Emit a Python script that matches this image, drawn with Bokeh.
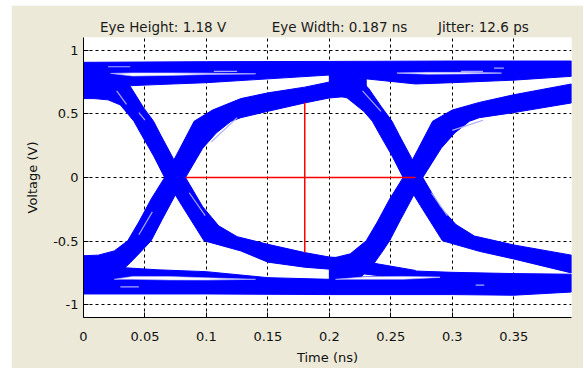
from bokeh.plotting import figure
from bokeh.models import Range1d, FixedTicker, LinearAxis
from bokeh.embed import file_html
from bokeh.resources import INLINE

# ---------------- texts / ticks ----------------
header_texts = ["Eye Height: 1.18 V", "Eye Width: 0.187 ns", "Jitter: 12.6 ps"]
header_t = [0.0648, 0.2083, 0.3253]

x_ticks = [0, 0.05, 0.1, 0.15, 0.2, 0.25, 0.3, 0.35]
x_tick_labels = ["0", "0.05", "0.1", "0.15", "0.2", "0.25", "0.3", "0.35"]
y_ticks = [-1, -0.5, 0, 0.5, 1]
y_tick_labels = ["-1", "-0.5", "0", "0.5", "1"]

# ---------------- eye measurement markers ----------------
eye_width_t = [0.083, 0.270]
eye_width_v = [0.0, 0.0]
eye_height_t = [0.18, 0.18]
eye_height_v = [-0.59, 0.59]

# ---------------- trace bands (two edges each) ----------------
top_a_t = [0, 0.1, 0.2, 0.3, 0.397]
top_a_v = [0.905, 0.91, 0.912, 0.915, 0.915]
top_b_t = [0, 0.02, 0.035, 0.06, 0.1, 0.15, 0.2, 0.245, 0.27, 0.3, 0.35, 0.397]
top_b_v = [0.62, 0.67, 0.72, 0.73, 0.745, 0.775, 0.805, 0.76, 0.735, 0.745, 0.765, 0.795]

bot_a_t = [0, 0.02, 0.035, 0.06, 0.1, 0.15, 0.2, 0.245, 0.27, 0.3, 0.35, 0.397]
bot_a_v = [-0.615, -0.66, -0.71, -0.725, -0.74, -0.787, -0.80, -0.77, -0.735, -0.745, -0.755, -0.76]
bot_b_t = [0, 0.1, 0.2, 0.3, 0.35, 0.397]
bot_b_v = [-0.915, -0.915, -0.92, -0.92, -0.925, -0.90]

fall_l_a_t = [0, 0.025, 0.038, 0.049, 0.057, 0.063, 0.073, 0.083, 0.097, 0.11, 0.125, 0.15, 0.18, 0.2, 0.217, 0.24, 0.27]
fall_l_a_v = [0.70, 0.80, 0.717, 0.547, 0.442, 0.33, 0.15, 0.0, -0.23, -0.38, -0.465, -0.525, -0.59, -0.625, -0.635, -0.68, -0.73]
fall_l_b_t = [0, 0.0085, 0.02, 0.03, 0.041, 0.0475, 0.057, 0.066, 0.08, 0.098, 0.128, 0.15, 0.18, 0.2, 0.23, 0.27]
fall_l_b_v = [0.62, 0.62, 0.61, 0.57, 0.442, 0.33, 0.17, 0.0, -0.22, -0.497, -0.577, -0.665, -0.705, -0.72, -0.76, -0.80]

rise_l_a_t = [0, 0.028, 0.038, 0.047, 0.055, 0.064, 0.074, 0.083, 0.097, 0.108, 0.12, 0.128, 0.15, 0.18, 0.2, 0.23]
rise_l_a_v = [-0.70, -0.76, -0.67, -0.58, -0.497, -0.33, -0.15, 0.0, 0.23, 0.35, 0.442, 0.47, 0.52, 0.586, 0.625, 0.65]
rise_l_b_t = [0, 0.012, 0.025, 0.036, 0.045, 0.055, 0.066, 0.078, 0.09, 0.105, 0.128, 0.15, 0.18, 0.2, 0.23]
rise_l_b_v = [-0.615, -0.61, -0.577, -0.497, -0.35, -0.17, 0.0, 0.22, 0.442, 0.53, 0.62, 0.665, 0.71, 0.75, 0.78]

desc_r_a_t = [0.2, 0.222, 0.232, 0.242, 0.251, 0.257, 0.267, 0.276, 0.29, 0.303, 0.318, 0.35, 0.397]
desc_r_a_v = [0.86, 0.80, 0.70, 0.56, 0.442, 0.33, 0.15, 0.0, -0.23, -0.37, -0.46, -0.53, -0.61]
desc_r_b_t = [0.2, 0.2145, 0.228, 0.235, 0.2415, 0.251, 0.26, 0.274, 0.292, 0.322, 0.35, 0.397]
desc_r_b_v = [0.66, 0.625, 0.52, 0.442, 0.33, 0.17, 0.0, -0.22, -0.497, -0.58, -0.64, -0.75]

rise_r_a_t = [0.2, 0.215, 0.226, 0.236, 0.244, 0.249, 0.258, 0.268, 0.276, 0.291, 0.302, 0.314, 0.322, 0.35, 0.397]
rise_r_a_v = [-0.80, -0.80, -0.78, -0.68, -0.57, -0.497, -0.33, -0.15, 0.0, 0.23, 0.35, 0.442, 0.47, 0.51, 0.586]
rise_r_b_t = [0.2, 0.217, 0.23, 0.239, 0.249, 0.26, 0.272, 0.284, 0.30, 0.322, 0.35, 0.397]
rise_r_b_v = [-0.64, -0.60, -0.497, -0.35, -0.17, 0.0, 0.22, 0.442, 0.53, 0.59, 0.65, 0.735]

# white gaps between overlapping trace families
gap_top_l_t = [0.022, 0.04, 0.07, 0.1, 0.14]
gap_top_l_hi = [0.818, 0.822, 0.822, 0.82, 0.815]
gap_top_l_lo = [0.818, 0.797, 0.802, 0.809, 0.814]
gap_top_r_t = [0.255, 0.28, 0.31, 0.34]
gap_top_r_hi = [0.822, 0.826, 0.826, 0.822]
gap_top_r_lo = [0.82, 0.812, 0.814, 0.82]
gap_bot_l_t = [0.025, 0.04, 0.07, 0.1, 0.14]
gap_bot_l_hi = [-0.80, -0.777, -0.778, -0.788, -0.80]
gap_bot_l_lo = [-0.80, -0.80, -0.805, -0.806, -0.80]
gap_bot_r_t = [0.205, 0.23, 0.26, 0.29]
gap_bot_r_hi = [-0.80, -0.78, -0.777, -0.782]
gap_bot_r_lo = [-0.80, -0.80, -0.80, -0.785]

# light streaks where single traces separate inside the bands
streak_t = [[0.02, 0.038], [0.106, 0.125], [0.307, 0.325], [0.334, 0.342],
            [0.027, 0.035], [0.045, 0.05], [0.104, 0.125], [0.086, 0.099],
            [0.227, 0.242], [0.300, 0.325], [0.319, 0.326], [0.03, 0.045],
            [0.283, 0.296], [0.045, 0.056]]
streak_v = [[0.87, 0.87], [0.834, 0.834], [0.834, 0.834], [0.86, 0.86],
            [0.68, 0.575], [0.51, 0.45], [0.28, 0.47], [-0.12, -0.30],
            [0.68, 0.52], [0.37, 0.45], [-0.845, -0.845], [-0.86, -0.86],
            [-0.12, -0.30], [-0.45, -0.27]]

BLUE = "#0000ff"
PAGE = "#ece9d8"
FONT = "DejaVu Sans"

p = figure(width=572, height=363, output_backend="svg", toolbar_location=None,
           x_range=Range1d(0, 0.397), y_range=Range1d(-1.1, 1.1),
           min_border_left=72, min_border_right=12, min_border_top=32, min_border_bottom=51)
p.margin = (5, 0, 0, 11)
p.background_fill_color = "white"
p.border_fill_color = PAGE
p.outline_line_color = None

def band(at, av, bt, bv, color):
    xs = list(at) + list(bt)[::-1]
    ys = list(av) + list(bv)[::-1]
    p.patch(xs, ys, fill_color=color, line_color=color, line_width=1)

band(top_a_t, top_a_v, top_b_t, top_b_v, BLUE)
band(bot_a_t, bot_a_v, bot_b_t, bot_b_v, BLUE)
band(fall_l_a_t, fall_l_a_v, fall_l_b_t, fall_l_b_v, BLUE)
band(rise_l_a_t, rise_l_a_v, rise_l_b_t, rise_l_b_v, BLUE)
band(desc_r_a_t, desc_r_a_v, desc_r_b_t, desc_r_b_v, BLUE)
band(rise_r_a_t, rise_r_a_v, rise_r_b_t, rise_r_b_v, BLUE)

for gt, ghi, glo in [(gap_top_l_t, gap_top_l_hi, gap_top_l_lo),
                     (gap_top_r_t, gap_top_r_hi, gap_top_r_lo),
                     (gap_bot_l_t, gap_bot_l_hi, gap_bot_l_lo),
                     (gap_bot_r_t, gap_bot_r_hi, gap_bot_r_lo)]:
    xs = list(gt) + list(gt)[::-1]
    ys = list(ghi) + list(glo)[::-1]
    p.patch(xs, ys, fill_color="white", line_color="#b8b8ff", line_width=0.6)

p.multi_line(streak_t, streak_v, line_color="#a8a8ff", line_width=1.2)

p.line(eye_width_t, eye_width_v, line_color="#ff0000", line_width=1.5)
p.line(eye_height_t, eye_height_v, line_color="#ff0000", line_width=1.5)

# axes
def style_axis(ax):
    ax.axis_line_color = "black"
    ax.major_tick_line_color = "black"
    ax.major_tick_in = 5
    ax.major_tick_out = 0
    ax.minor_tick_line_color = None
    ax.major_label_text_font = FONT
    ax.major_label_text_font_size = "13px"
    ax.major_label_text_color = "#111111"
    ax.axis_label_text_font = FONT
    ax.axis_label_text_font_size = "13px"
    ax.axis_label_text_font_style = "normal"
    ax.axis_label_text_color = "#111111"

style_axis(p.xaxis[0])
style_axis(p.yaxis[0])
p.xaxis.ticker = FixedTicker(ticks=x_ticks)
p.xaxis.major_label_overrides = dict(zip(x_ticks, x_tick_labels))
p.yaxis.ticker = FixedTicker(ticks=y_ticks)
p.yaxis.major_label_overrides = dict(zip(y_ticks, y_tick_labels))
p.xaxis.axis_label = "Time (ns)"
p.yaxis.axis_label = "Voltage (V)"
p.xaxis.major_label_standoff = 14
p.xaxis.axis_label_standoff = 6
p.yaxis.major_label_standoff = 5
p.yaxis.axis_label_standoff = 10

# measurement read-outs along the top
top_axis = LinearAxis(ticker=FixedTicker(ticks=header_t),
                      major_label_overrides=dict(zip(header_t, header_texts)))
top_axis.axis_line_color = None
top_axis.major_tick_line_color = None
top_axis.minor_tick_line_color = None
top_axis.major_tick_in = 0
top_axis.major_tick_out = 0
top_axis.major_label_standoff = 3
top_axis.major_label_text_font = FONT
top_axis.major_label_text_font_size = "13.5px"
top_axis.major_label_text_color = "#1a1a1a"
p.add_layout(top_axis, "above")

for g in (p.xgrid[0], p.ygrid[0]):
    g.grid_line_color = "black"
    g.grid_line_dash = "3 3"
    g.grid_line_width = 1
p.xgrid.ticker = FixedTicker(ticks=x_ticks)
p.ygrid.ticker = FixedTicker(ticks=y_ticks)

open("out.html", "w").write(file_html(p, INLINE))
